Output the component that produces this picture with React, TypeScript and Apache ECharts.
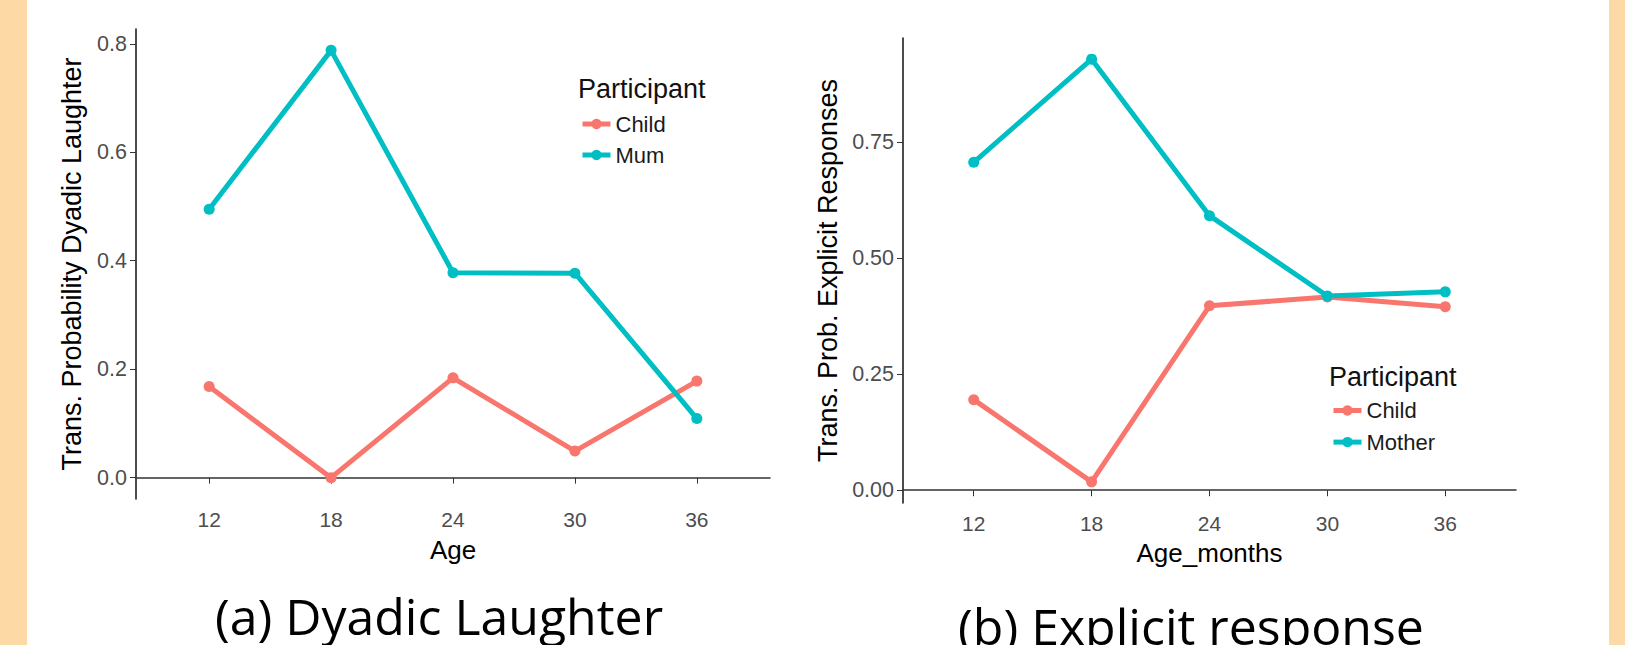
import React, { useEffect, useRef } from "react";
import * as echarts from "echarts";

const ages = [12, 18, 24, 30, 36];
const laughChild = [0.168, 0.0, 0.184, 0.049, 0.178];
const laughMum = [0.495, 0.788, 0.378, 0.377, 0.109];
const explicitChild = [0.195, 0.018, 0.397, 0.416, 0.395];
const explicitMother = [0.706, 0.928, 0.591, 0.418, 0.427];
const laughYTicks = [0, 0.2, 0.4, 0.6, 0.8];
const explicitYTicks = [0, 0.25, 0.5, 0.75];
const legendA = ["Child", "Mum"];
const legendB = ["Child", "Mother"];

const RED = "#F8766D";
const TEAL = "#00BFC4";
const PEACH = "#FDD9A6";
const SANS = "'Liberation Sans', Arial, sans-serif";
const CAP = "'Open Sans', 'Noto Sans', sans-serif";

function pairs(xs: number[], ys: number[]) {
  return xs.map((x, i) => [x, ys[i]]);
}

function ggRange(vals: number[]) {
  const lo = Math.min(...vals);
  const hi = Math.max(...vals);
  const pad = (hi - lo) * 0.05;
  return [lo - pad, hi + pad];
}

export default function App() {
  const ref = useRef<HTMLDivElement>(null);
  useEffect(() => {
    if (!ref.current) return;
    const chart = echarts.init(ref.current, undefined, { renderer: "svg" });
    const step = ages[1] - ages[0];
    const xMin = ages[0] - 0.6 * step;
    const xMax = ages[ages.length - 1] + 0.6 * step;
    const [ayMin, ayMax] = ggRange([...laughChild, ...laughMum]);
    const [byMin, byMax] = ggRange([...explicitChild, ...explicitMother]);

    const xAxisBase = (gridIndex: number) => ({
      type: "value",
      gridIndex,
      min: xMin,
      max: xMax,
      splitLine: { show: false },
      axisLine: { show: true, lineStyle: { color: "#333", width: 1.5 } },
      axisTick: { show: true, length: 6, customValues: ages, lineStyle: { color: "#333" } },
      axisLabel: {
        customValues: ages,
        margin: 10,
        color: "#4D4D4D",
        fontSize: 21,
        fontFamily: SANS,
      },
    });
    const yAxisBase = (gridIndex: number, min: number, max: number, ticks: number[], dec: number) => ({
      type: "value",
      gridIndex,
      min,
      max,
      splitLine: { show: false },
      axisLine: { show: true, lineStyle: { color: "#111", width: 1.5 } },
      axisTick: { show: true, length: 6, customValues: ticks, lineStyle: { color: "#333" } },
      axisLabel: {
        customValues: ticks,
        margin: 9,
        color: "#4D4D4D",
        fontSize: 21.5,
        fontFamily: SANS,
        formatter: (v: number) => v.toFixed(dec),
      },
    });
    const lineSeries = (name: string, data: number[], color: string, idx: number) => ({
      type: "line",
      name,
      xAxisIndex: idx,
      yAxisIndex: idx,
      data: pairs(ages, data),
      symbol: "circle",
      symbolSize: 11,
      showSymbol: true,
      lineStyle: { color, width: 5 },
      itemStyle: { color },
      emphasis: { disabled: true },
    });
    const legendBase = (data: string[], left: number, top: number, gap: number) => ({
      orient: "vertical",
      left,
      top,
      data,
      itemWidth: 28,
      itemHeight: 13,
      itemGap: gap,
      selectedMode: false,
      padding: 0,
      lineStyle: { width: 5 },
      textStyle: { fontFamily: SANS, fontSize: 22, color: "#1a1a1a" },
    });
    const txt = (text: string, x: number, y: number, size: number, font: string, extra: any = {}) => ({
      type: "text",
      x,
      y,
      ...extra,
      style: {
        text,
        fontSize: size,
        fontFamily: font,
        fill: extra.fill || "#000",
        textAlign: extra.align || "center",
        textVerticalAlign: "middle",
      },
    });

    chart.setOption({
      animation: false,
      backgroundColor: "#fff",
      grid: [
        { left: 136, top: 29, width: 634, height: 470 },
        { left: 903, top: 38, width: 613, height: 465 },
      ],
      xAxis: [xAxisBase(0), xAxisBase(1)],
      yAxis: [
        yAxisBase(0, ayMin, ayMax, laughYTicks, 1),
        yAxisBase(1, byMin, byMax, explicitYTicks, 2),
      ],
      legend: [legendBase(legendA, 580, 113, 9), legendBase(legendB, 1331, 399.5, 9.6)],
      series: [
        lineSeries("Child", laughChild, RED, 0),
        lineSeries("Mum", laughMum, TEAL, 0),
        lineSeries("Child", explicitChild, RED, 1),
        lineSeries("Mother", explicitMother, TEAL, 1),
      ],
      graphic: [
        { type: "rect", shape: { x: 0, y: 0, width: 27, height: 645 }, style: { fill: PEACH } },
        { type: "rect", shape: { x: 1609, y: 0, width: 16, height: 645 }, style: { fill: PEACH } },
        txt("Participant", 578, 89, 27, SANS, { align: "left", fill: "#111" }),
        txt("Participant", 1329, 377, 27, SANS, { align: "left", fill: "#111" }),
        txt("Trans. Probability Dyadic Laughter", 72, 264, 27, SANS, { rotation: Math.PI / 2 }),
        txt("Trans. Prob. Explicit Responses", 828, 270.5, 27, SANS, { rotation: Math.PI / 2 }),
        txt("Age", 453, 550, 26, SANS),
        txt("Age_months", 1209.5, 553, 26, SANS),
        txt("(a) Dyadic Laughter", 439, 616, 50, CAP),
        txt("(b) Explicit response", 1191, 626, 50, CAP),
      ],
    });
    return () => chart.dispose();
  }, []);
  return (
    <div
      ref={ref}
      style={{ position: "fixed", left: 0, top: 0, width: 1625, height: 645, background: "#fff" }}
    />
  );
}
